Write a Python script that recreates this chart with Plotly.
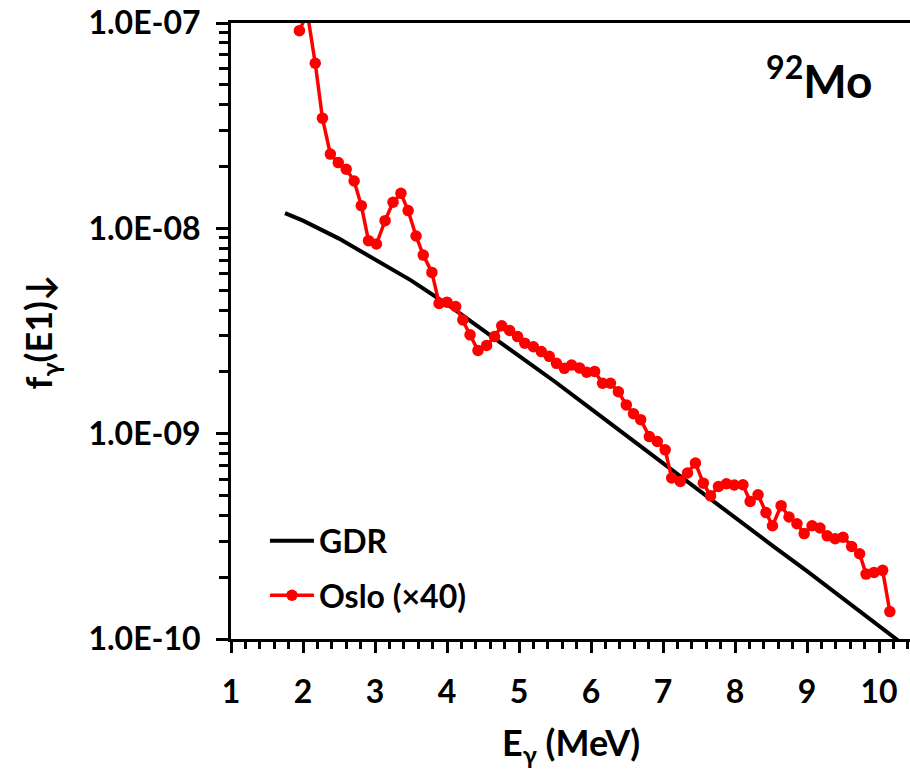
import plotly.graph_objects as go

# Photon strength function of 92Mo: GDR model vs Oslo data (scaled x40)
gdr_energy = [1.75, 2.0, 2.5, 3.0, 3.5, 4.0, 4.5, 5.0, 5.5, 6.0, 6.5, 7.0,
              7.5, 8.0, 8.5, 9.0, 9.5, 10.0, 10.5]
gdr_strength = [1.186e-8, 1.09e-8, 8.91e-9, 7.08e-9, 5.58e-9, 4.27e-9, 3.20e-9,
                2.40e-9, 1.79e-9, 1.32e-9, 9.72e-10, 7.16e-10, 5.27e-10,
                3.89e-10, 2.88e-10, 2.14e-10, 1.58e-10, 1.17e-10, 8.51e-11]

oslo_energy = [1.95, 2.06, 2.17, 2.27, 2.38, 2.49, 2.60, 2.71, 2.81, 2.91,
               3.02, 3.14, 3.25, 3.36, 3.46, 3.57, 3.67, 3.79, 3.89, 4.00,
               4.12, 4.22, 4.32, 4.43, 4.55, 4.66, 4.76, 4.87, 4.98, 5.08,
               5.20, 5.31, 5.42, 5.52, 5.63, 5.73, 5.84, 5.94, 6.05, 6.16,
               6.27, 6.38, 6.49, 6.59, 6.69, 6.81, 6.92, 7.03, 7.12, 7.24,
               7.34, 7.45, 7.56, 7.66, 7.77, 7.88, 7.99, 8.11, 8.21, 8.32,
               8.43, 8.52, 8.64, 8.75, 8.86, 8.96, 9.07, 9.18, 9.28, 9.39,
               9.50, 9.62, 9.73, 9.82, 9.93, 10.05, 10.15]
oslo_strength = [9.18e-8, 1.12e-7, 6.37e-8, 3.44e-8, 2.30e-8, 2.09e-8, 1.94e-8,
                 1.70e-8, 1.29e-8, 8.71e-9, 8.39e-9, 1.09e-8, 1.34e-8, 1.48e-8,
                 1.22e-8, 9.18e-9, 7.41e-9, 6.10e-9, 4.31e-9, 4.37e-9, 4.16e-9,
                 3.58e-9, 3.03e-9, 2.54e-9, 2.69e-9, 2.97e-9, 3.35e-9, 3.18e-9,
                 2.97e-9, 2.76e-9, 2.65e-9, 2.51e-9, 2.38e-9, 2.20e-9, 2.08e-9,
                 2.16e-9, 2.09e-9, 1.99e-9, 2.01e-9, 1.76e-9, 1.76e-9, 1.60e-9,
                 1.38e-9, 1.25e-9, 1.17e-9, 9.68e-10, 9.16e-10, 8.34e-10,
                 6.08e-10, 5.85e-10, 6.43e-10, 7.19e-10, 5.74e-10, 4.98e-10,
                 5.53e-10, 5.70e-10, 5.62e-10, 5.64e-10, 4.68e-10, 5.04e-10,
                 4.13e-10, 3.56e-10, 4.46e-10, 3.93e-10, 3.64e-10, 3.26e-10,
                 3.56e-10, 3.47e-10, 3.18e-10, 3.08e-10, 3.13e-10, 2.82e-10,
                 2.60e-10, 2.07e-10, 2.11e-10, 2.16e-10, 1.36e-10]

x_ticks = [1, 2, 3, 4, 5, 6, 7, 8, 9, 10]
y_ticks = [1e-10, 1e-9, 1e-8, 1e-7]
y_ticktext = ["1.0E-10", "1.0E-09", "1.0E-08", "1.0E-07"]
y_minor = [m * 10.0 ** e for e in (-10, -9, -8) for m in range(2, 10)]

FONT = "Lato"
fnt = dict(family=FONT, size=32, color="black", weight="bold")
title_fnt = dict(family=FONT, size=36, color="black", weight="bold")

fig = go.Figure()
fig.add_trace(go.Scatter(
    x=gdr_energy, y=gdr_strength, mode="lines", name="GDR",
    line=dict(color="black", width=4), legendgroup="a"))
fig.add_trace(go.Scatter(
    x=oslo_energy, y=oslo_strength, mode="lines+markers", name="Oslo (×40)",
    line=dict(color="#ff0000", width=3.5),
    marker=dict(color="#ff0000", size=11.5), legendgroup="b"))

fig.update_layout(
    width=910, height=774,
    margin=dict(l=231, r=0, t=23, b=135, autoexpand=False),
    paper_bgcolor="white", plot_bgcolor="white",
    font=fnt,
    showlegend=True,
    legend=dict(x=0.05, y=0.204, xanchor="left", yanchor="top",
                font=fnt, bgcolor="rgba(0,0,0,0)", tracegroupgap=10,
                traceorder="grouped", itemwidth=44),
    xaxis=dict(range=[1, 10.43], tickvals=x_ticks, ticks="outside",
               ticklen=11, tickwidth=3, tickcolor="black",
               showline=True, linewidth=3, linecolor="black", mirror=True,
               showgrid=False, zeroline=False, tickfont=fnt,
               ticklabelstandoff=12,
               minor=dict(dtick=0.2, tick0=1, ticks="outside", ticklen=7,
                          tickwidth=3, tickcolor="black", showgrid=False)),
    yaxis=dict(type="log", range=[-10, -7], tickvals=y_ticks,
               ticktext=y_ticktext, ticks="outside", ticklen=12,
               tickwidth=3, tickcolor="black",
               showline=True, linewidth=3, linecolor="black", mirror=False,
               showgrid=False, zeroline=False, tickfont=fnt,
               ticklabelstandoff=9,
               minor=dict(tickvals=y_minor, ticks="outside", ticklen=9,
                          tickwidth=3, tickcolor="black", showgrid=False)),
    annotations=[
        dict(text="<sup>92</sup>Mo", x=0.867, y=0.911, xref="paper",
             yref="paper", xanchor="center", yanchor="middle",
             showarrow=False,
             font=dict(family=FONT, size=46, color="black", weight="bold")),
        dict(text="E<sub>γ</sub> (MeV)", x=0.5, y=-0.172, xref="paper",
             yref="paper", xanchor="center", yanchor="middle",
             showarrow=False, font=title_fnt),
        dict(text="f<sub>γ</sub>(E1)↓", x=-0.281, y=0.498, xref="paper",
             yref="paper", xanchor="center", yanchor="middle",
             showarrow=False, textangle=-90, font=title_fnt),
    ],
)

fig.write_html("out.html")
